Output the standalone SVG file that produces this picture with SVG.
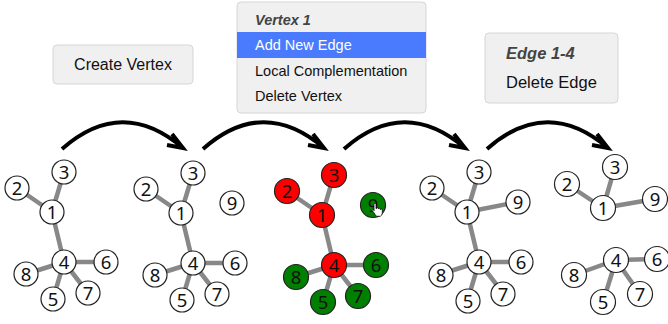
<svg xmlns="http://www.w3.org/2000/svg" xmlns:xlink="http://www.w3.org/1999/xlink" width="668" height="324" viewBox="0 0 668 324">
<style>
.btn{fill:#f0f0f0;stroke:#d6d6d6;stroke-width:1}
.ui{font-family:"Liberation Sans",Arial,sans-serif;fill:#111}
.hdr{font-weight:bold;font-style:italic;fill:#444}
.e{stroke:#888;stroke-width:4.5;fill:none}
.n circle{fill:#fff;stroke:#222;stroke-width:1.2}
.n text{font-family:"Noto Sans","Open Sans",sans-serif;font-size:18.5px;text-anchor:middle;fill:#111}
.r circle{fill:#ff0000}
.g circle{fill:#008000}
.arr{fill:none;stroke:#000;stroke-width:4}
</style>
<defs>
<path id="arc" class="arr" d="M0,0 Q60,-53 121,-1 M110,-15 L121,-1 L105,-4"/>
</defs>

<g id="btn-create">
<rect class="btn" x="53" y="45" width="140" height="39" rx="4"/>
<text class="ui" x="123" y="70" font-size="16" text-anchor="middle">Create Vertex</text>
</g>
<g id="menu-vertex">
<rect class="btn" x="237" y="2" width="189" height="111" rx="4"/>
<rect x="237" y="32" width="189" height="26" fill="#4a7afe"/>
<text class="ui hdr" x="255" y="25" font-size="14.5">Vertex 1</text>
<text class="ui" x="255" y="50" font-size="14.5" style="fill:#fff">Add New Edge</text>
<text class="ui" x="255" y="76" font-size="14.5">Local Complementation</text>
<text class="ui" x="255" y="101" font-size="14.5">Delete Vertex</text>
</g>
<g id="menu-edge">
<rect class="btn" x="485" y="33" width="133" height="70" rx="4"/>
<text class="ui hdr" x="506" y="59" font-size="16.5">Edge 1-4</text>
<text class="ui" x="506" y="88" font-size="16.5">Delete Edge</text>
</g>

<g id="arrows">
<use xlink:href="#arc" href="#arc" transform="translate(62,149)"/>
<use xlink:href="#arc" href="#arc" transform="translate(203,149)"/>
<use xlink:href="#arc" href="#arc" transform="translate(344,149)"/>
<use xlink:href="#arc" href="#arc" transform="translate(487,149)"/>
</g>

<!-- Graph 1 -->
<g id="graph1">
<g id="g1-edges">
<path class="e" d="M52,212L17,188M52,212L64,172M52,212L64,262M64,262L106,262M64,262L26,274M64,262L53,299M64,262L88,293"/>
</g>
<g id="g1-n1" class="n"><circle cx="52" cy="212" r="12"/><text x="52" y="218.5">1</text></g>
<g id="g1-n2" class="n"><circle cx="17" cy="188" r="12"/><text x="17" y="194.5">2</text></g>
<g id="g1-n3" class="n"><circle cx="64" cy="172" r="12"/><text x="64" y="178.5">3</text></g>
<g id="g1-n4" class="n"><circle cx="64" cy="262" r="12"/><text x="64" y="268.5">4</text></g>
<g id="g1-n5" class="n"><circle cx="53" cy="299" r="12"/><text x="53" y="305.5">5</text></g>
<g id="g1-n6" class="n"><circle cx="106" cy="262" r="12"/><text x="106" y="268.5">6</text></g>
<g id="g1-n7" class="n"><circle cx="88" cy="293" r="12"/><text x="88" y="299.5">7</text></g>
<g id="g1-n8" class="n"><circle cx="26" cy="274" r="12"/><text x="26" y="280.5">8</text></g>
</g>

<!-- Graph 2 -->
<g id="graph2" transform="translate(129,1)">
<g id="g2-edges">
<path class="e" d="M52,212L17,188M52,212L64,172M52,212L64,262M64,262L106,262M64,262L26,274M64,262L53,299M64,262L88,293"/>
</g>
<g id="g2-n1" class="n"><circle cx="52" cy="212" r="12"/><text x="52" y="218.5">1</text></g>
<g id="g2-n2" class="n"><circle cx="17" cy="188" r="12"/><text x="17" y="194.5">2</text></g>
<g id="g2-n3" class="n"><circle cx="64" cy="172" r="12"/><text x="64" y="178.5">3</text></g>
<g id="g2-n4" class="n"><circle cx="64" cy="262" r="12"/><text x="64" y="268.5">4</text></g>
<g id="g2-n5" class="n"><circle cx="53" cy="299" r="12"/><text x="53" y="305.5">5</text></g>
<g id="g2-n6" class="n"><circle cx="106" cy="262" r="12"/><text x="106" y="268.5">6</text></g>
<g id="g2-n7" class="n"><circle cx="88" cy="293" r="12"/><text x="88" y="299.5">7</text></g>
<g id="g2-n8" class="n"><circle cx="26" cy="274" r="12"/><text x="26" y="280.5">8</text></g>
<g id="g2-n9" class="n"><circle cx="103" cy="202" r="12"/><text x="103" y="208.5">9</text></g>
</g>

<!-- Graph 3 -->
<g id="graph3" transform="translate(270,3)">
<g id="g3-edges">
<path class="e" d="M52,212L17,188M52,212L64,172M52,212L64,262M64,262L106,262M64,262L26,274M64,262L53,299M64,262L88,293"/>
</g>
<g id="g3-n1" class="n r"><circle cx="52" cy="212" r="12.5"/><text x="52" y="218.5">1</text></g>
<g id="g3-n2" class="n r"><circle cx="17" cy="188" r="12.5"/><text x="17" y="194.5">2</text></g>
<g id="g3-n3" class="n r"><circle cx="64" cy="172" r="12.5"/><text x="64" y="178.5">3</text></g>
<g id="g3-n4" class="n r"><circle cx="64" cy="262" r="12.5"/><text x="64" y="268.5">4</text></g>
<g id="g3-n5" class="n g"><circle cx="53" cy="299" r="12.5"/><text x="53" y="305.5">5</text></g>
<g id="g3-n6" class="n g"><circle cx="106" cy="262" r="12.5"/><text x="106" y="268.5">6</text></g>
<g id="g3-n7" class="n g"><circle cx="88" cy="293" r="12.5"/><text x="88" y="299.5">7</text></g>
<g id="g3-n8" class="n g"><circle cx="26" cy="274" r="12.5"/><text x="26" y="280.5">8</text></g>
<g id="g3-n9" class="n g"><circle cx="103" cy="202" r="12.5"/><text x="103" y="208.5">9</text></g>
<path id="cursor" transform="translate(104,200.5) scale(0.85)" d="M0,1 a1.2,1.2 0 0 1 2.4,0 L2.4,6 L3.2,5.8 a1.1,1.1 0 0 1 2.2,0.4 L5.4,6.5 a1.1,1.1 0 0 1 2.2,0.4 L7.6,7.4 a1.1,1.1 0 0 1 2.2,0.5 L9.8,11 Q9.8,14 7.5,15 L3,15 Q1.5,14 0,11 L-2,8.5 a1.1,1.1 0 0 1 1.8,-1.2 L0,8.5 Z" fill="#fff" stroke="#000" stroke-width="0.9" stroke-linejoin="round"/>
</g>

<!-- Graph 4 -->
<g id="graph4" transform="translate(415,0)">
<g id="g4-edges">
<path class="e" d="M52,212L17,188M52,212L64,172M52,212L64,262M52,212L103,202M64,262L106,262M64,262L26,274M64,262L53,299M64,262L88,293"/>
</g>
<g id="g4-n1" class="n"><circle cx="52" cy="212" r="12"/><text x="52" y="218.5">1</text></g>
<g id="g4-n2" class="n"><circle cx="17" cy="188" r="12"/><text x="17" y="194.5">2</text></g>
<g id="g4-n3" class="n"><circle cx="64" cy="172" r="12"/><text x="64" y="178.5">3</text></g>
<g id="g4-n4" class="n"><circle cx="64" cy="262" r="12"/><text x="64" y="268.5">4</text></g>
<g id="g4-n5" class="n"><circle cx="53" cy="301" r="12"/><text x="53" y="307.5">5</text></g>
<g id="g4-n6" class="n"><circle cx="106" cy="262" r="12"/><text x="106" y="268.5">6</text></g>
<g id="g4-n7" class="n"><circle cx="88" cy="294" r="12"/><text x="88" y="300.5">7</text></g>
<g id="g4-n8" class="n"><circle cx="26" cy="275" r="12"/><text x="26" y="281.5">8</text></g>
<g id="g4-n9" class="n"><circle cx="103" cy="202" r="12"/><text x="103" y="208.5">9</text></g>
</g>

<!-- Graph 5 -->
<g id="graph5">
<g id="g5-edges">
<path class="e" d="M603,208L567,184M603,208L615,167M603,208L655,199M616,260L657,259M616,260L574,275M616,260L603,302M616,260L640,294"/>
</g>
<g id="g5-n1" class="n"><circle cx="603" cy="208" r="12.5"/><text x="603" y="214.5">1</text></g>
<g id="g5-n2" class="n"><circle cx="567" cy="184" r="12.5"/><text x="567" y="190.5">2</text></g>
<g id="g5-n3" class="n"><circle cx="615" cy="167" r="12.5"/><text x="615" y="173.5">3</text></g>
<g id="g5-n4" class="n"><circle cx="616" cy="260" r="12.5"/><text x="616" y="266.5">4</text></g>
<g id="g5-n5" class="n"><circle cx="603" cy="302" r="12.5"/><text x="603" y="308.5">5</text></g>
<g id="g5-n6" class="n"><circle cx="657" cy="259" r="12.5"/><text x="657" y="265.5">6</text></g>
<g id="g5-n7" class="n"><circle cx="640" cy="294" r="12.5"/><text x="640" y="300.5">7</text></g>
<g id="g5-n8" class="n"><circle cx="574" cy="275" r="12.5"/><text x="574" y="281.5">8</text></g>
<g id="g5-n9" class="n"><circle cx="655" cy="199" r="12.5"/><text x="655" y="205.5">9</text></g>
</g>
</svg>
